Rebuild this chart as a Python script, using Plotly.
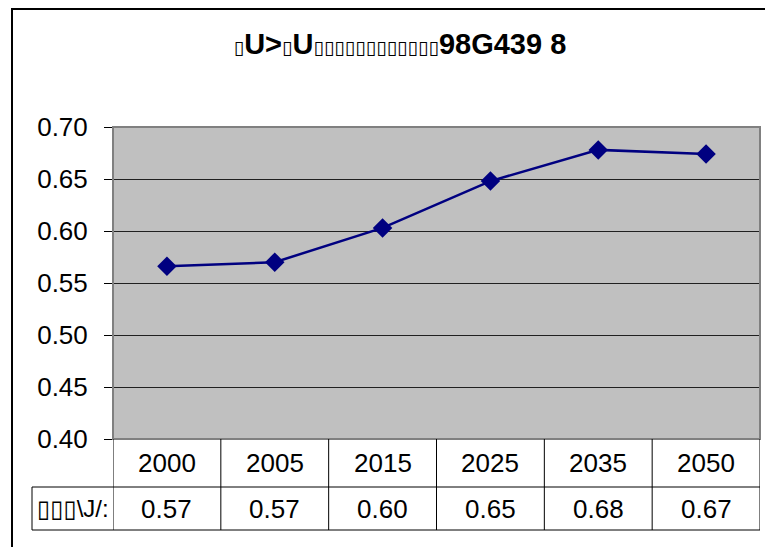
import plotly.graph_objects as go

# data
years = ["2000", "2005", "2015", "2025", "2035", "2050"]
values = [0.566, 0.570, 0.603, 0.648, 0.678, 0.674]
y_ticks = [0.40, 0.45, 0.50, 0.55, 0.60, 0.65, 0.70]
title_parts = [("▯", "U"), ("", ">"), ("▯", "U"), ("▯▯▯▯▯▯▯▯▯▯▯▯", "98G439 8")]
row_label = ("▯▯▯", "\\J/:")

# page body adds 8px around the figure
W, H = 765, 539
L, R, T, B = 105, 13, 119, 108
pw = W - L - R
ph = H - T - B
r1 = 48 / ph               # years row height (paper units)
r2 = 43 / ph               # values row height
left_col = -81 / pw        # left edge of the label column
font = "Liberation Sans, Arial, sans-serif"
box = '<span style="font-family:DejaVu Sans;font-weight:normal;font-size:{}px">{}</span>'

fig = go.Figure()
fig.add_trace(go.Scatter(
    x=years, y=values, mode="lines+markers",
    line=dict(color="#000080", width=2.5),
    marker=dict(symbol="diamond", size=15, color="#000080"),
    showlegend=False, cliponaxis=False,
))

shapes = []
# plot area border
shapes.append(dict(type="rect", xref="paper", yref="paper", x0=0, x1=1, y0=0, y1=1,
                   line=dict(color="#808080", width=2), layer="above"))
# outer chart border
shapes.append(dict(type="rect", xref="paper", yref="paper",
                   x0=(4 - L) / pw, x1=(W + 20 - L) / pw,
                   y0=-(H + 20 - T - ph) / ph, y1=1 + (T - 1) / ph,
                   line=dict(color="black", width=2)))
# data table lines
for i in range(len(years) + 1):
    shapes.append(dict(type="line", xref="x", yref="paper", x0=i - 0.5, x1=i - 0.5,
                       y0=0, y1=-(r1 + r2), line=dict(color="black", width=1)))
for yy in (-r1, -(r1 + r2)):
    shapes.append(dict(type="line", xref="paper", yref="paper", x0=left_col, x1=1,
                       y0=yy, y1=yy, line=dict(color="black", width=1)))
shapes.append(dict(type="line", xref="paper", yref="paper", x0=left_col, x1=left_col,
                   y0=-r1, y1=-(r1 + r2), line=dict(color="black", width=1)))

cell_font = dict(size=26, color="black", family=font)
ann = []
for i, (yr, v) in enumerate(zip(years, values)):
    ann.append(dict(x=i, y=-r1 / 2, xref="x", yref="paper", text=yr, showarrow=False,
                    xanchor="center", yanchor="middle", font=cell_font))
    ann.append(dict(x=i, y=-r1 - r2 / 2, xref="x", yref="paper", text=f"{v:.2f}",
                    showarrow=False, xanchor="center", yanchor="middle", font=cell_font))
ann.append(dict(x=left_col / 2, y=-r1 - r2 / 2, xref="paper", yref="paper",
                text=box.format(24, row_label[0]) + row_label[1],
                showarrow=False, xanchor="center", yanchor="middle",
                font=dict(size=24, color="black", family=font)))

title_html = "<b>"
for a, b in title_parts:
    title_html += (box.format(19, a) if a else "") + b
title_html += "</b>"

fig.update_layout(
    width=W, height=H,
    margin=dict(l=L, r=R, t=T, b=B),
    paper_bgcolor="white", plot_bgcolor="#C0C0C0",
    title=dict(text=title_html, x=(400 - 8) / W, xanchor="center",
               y=1 - (44 - 8) / H, yanchor="middle",
               font=dict(size=29, color="black", family=font)),
    xaxis=dict(type="category", range=[-0.5, len(years) - 0.5], showticklabels=False,
               showgrid=False, zeroline=False, showline=False, ticks=""),
    yaxis=dict(range=[0.40, 0.70], tickvals=y_ticks, tickformat=".2f",
               showgrid=True, gridcolor="#202020", gridwidth=1,
               showline=True, linecolor="black", linewidth=1,
               ticks="outside", ticklen=8, tickcolor="black", ticklabelstandoff=11,
               tickfont=dict(size=26, color="black", family=font), zeroline=False),
    shapes=shapes, annotations=ann,
    font=dict(family=font),
)

fig.write_html("out.html")
